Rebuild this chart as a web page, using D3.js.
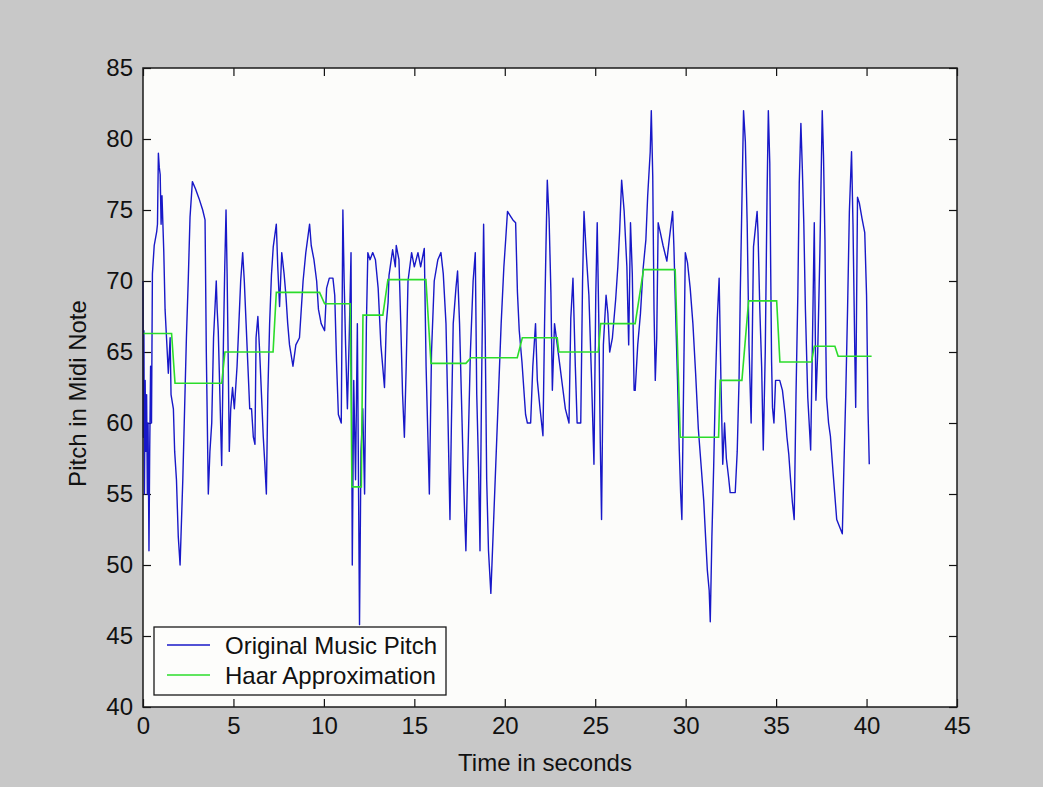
<!DOCTYPE html>
<html>
<head>
<meta charset="utf-8">
<script src="https://cdn.jsdelivr.net/npm/d3@7"></script>
<style>
  html, body { margin: 0; padding: 0; background: #c8c8c8; }
  #chart { width: 1043px; height: 787px; }
</style>
</head>
<body>
<div id="chart"></div>
<script>
// note onset times (s) and pitch (midi)
const timeSec = [
  0.00,0.02,0.05,0.08,0.12,0.15,0.20,0.24,0.28,0.33,0.37,0.42,0.47,0.52,0.62,0.76,0.80,0.85,0.90,0.95,
  1.00,1.05,1.10,1.15,1.22,1.30,1.40,1.50,1.55,1.68,1.75,1.85,1.95,2.05,2.10,2.20,2.30,2.40,2.50,2.60,
  2.73,2.90,3.10,3.30,3.43,3.50,3.55,3.61,3.70,3.80,3.90,4.05,4.10,4.16,4.25,4.35,4.45,4.52,4.59,4.65,
  4.72,4.77,4.85,4.95,5.05,5.20,5.30,5.40,5.51,5.60,5.70,5.80,5.90,6.00,6.10,6.19,6.25,6.35,6.45,6.55,
  6.65,6.74,6.82,6.90,7.00,7.10,7.20,7.37,7.45,7.55,7.67,7.80,7.90,8.00,8.10,8.29,8.45,8.65,8.85,9.00,
  9.21,9.30,9.45,9.60,9.70,9.85,10.04,10.15,10.30,10.50,10.60,10.70,10.80,10.96,11.05,11.12,11.20,11.30,11.40,11.50,
  11.57,11.65,11.75,11.85,11.97,12.05,12.15,12.25,12.35,12.43,12.55,12.70,12.85,13.00,13.15,13.35,13.45,13.55,13.60,13.80,
  13.95,14.00,14.15,14.25,14.35,14.45,14.55,14.65,14.85,15.00,15.20,15.35,15.55,15.65,15.75,15.83,15.95,16.10,16.30,16.47,
  16.60,16.75,16.85,16.97,17.05,17.15,17.30,17.39,17.50,17.60,17.70,17.78,17.85,17.95,18.10,18.25,18.37,18.45,18.55,18.63,
  18.72,18.83,18.92,19.00,19.10,19.23,19.35,19.50,19.65,19.80,19.95,20.05,20.15,20.35,20.45,20.60,20.70,20.80,20.95,21.15,
  21.25,21.43,21.55,21.70,21.80,21.95,22.11,22.20,22.28,22.35,22.45,22.55,22.63,22.75,22.90,23.05,23.20,23.35,23.55,23.65,
  23.77,23.90,24.00,24.20,24.30,24.38,24.50,24.65,24.80,24.93,25.03,25.11,25.20,25.28,25.35,25.45,25.60,25.70,25.80,25.95,
  26.13,26.25,26.35,26.46,26.60,26.75,26.85,26.95,27.05,27.15,27.21,27.35,27.50,27.65,27.80,27.90,28.04,28.10,28.18,28.25,
  28.32,28.40,28.48,28.60,28.75,28.96,29.10,29.28,29.35,29.45,29.55,29.65,29.72,29.79,29.98,30.10,30.25,30.40,30.55,30.70,
  30.86,31.00,31.10,31.20,31.30,31.36,31.45,31.55,31.65,31.75,31.85,31.95,32.05,32.15,32.25,32.37,32.46,32.74,32.85,32.95,
  33.02,33.20,33.30,33.40,33.50,33.62,33.75,33.95,34.00,34.10,34.20,34.29,34.40,34.50,34.57,34.65,34.70,34.75,34.80,34.88,
  34.97,35.20,35.35,35.50,35.60,35.70,35.80,35.90,36.00,36.10,36.20,36.28,36.37,36.45,36.53,36.62,36.75,36.91,37.00,37.11,
  37.20,37.30,37.42,37.55,37.62,37.70,37.75,37.79,37.90,38.00,38.15,38.35,38.66,38.75,38.85,38.95,39.05,39.17,39.25,39.35,
  39.40,39.50,39.60,39.75,39.90,40.00,40.08,40.15
];
const pitchMidi = [
  70,59,66.5,55,63,58,62,55,60,51,58,64,60,70.5,72.5,73.5,74,79,78,77.5,
  74,76,74,72,68,66,63.5,66,62,61,58,56,52,50,52,56,61,66,70,74.5,
  77,76.5,75.8,75,74.3,65,60.5,55,58,60,66,70,68,66.5,62,57,66,71,75,70.5,
  63.5,58,61,62.5,61,64,67,70,72,70,67,64,61,61,59,58.5,66,67.5,65,62,
  59,57,55,62,67,70.4,72.4,74,71,68.2,72,70.5,69,67,65.5,64,65.5,66,70,72,
  74,72.5,71.5,70,68,67,66.5,69.5,70.2,70.2,69,64.3,60.6,60,75,70,65.5,61,66,72,
  50,63,56,67,45.8,58,61,55,67,72,71.5,72,71.5,69.5,65.5,62.5,67,68.5,70.4,72.2,
  71,72.5,71.5,67,62,59,64,70,72,71,72,71,72.3,64,59,55,65,70,71.5,72,
  70.5,67,61,53.2,60,67,69.5,70.7,67,62,57,53.7,51,57,65,70,72,62,56.9,51,
  63,74,66,56,51,48,52,57,62,67,71,72.9,74.9,74.5,74.3,74.1,69.2,66.5,64.3,60.6,
  60,60,64,67,63,61,59.1,67,72.6,77.1,74.4,69.2,62.3,67,65.5,64,62.5,61,60,67.4,
  70.2,64,60,60,70,74.9,72,69,63,57.1,69,74.1,67,58.6,53.2,65.5,69,67.7,65,66,
  68.7,71,73.5,77.1,74.9,71,65.5,74.1,70.5,62.3,62.3,65.5,67.7,70.9,72.9,76,79.1,82,77.4,68,
  63,66,74.1,73.4,72.5,71.4,73,74.9,72.4,67.5,63,58,55.1,53.2,72,71.3,69.5,67,63.5,59.6,
  56.9,54.5,52,49.6,48.2,46,52,57,63,67.4,70.2,63,57.1,60,57.5,56.2,55.1,55.1,58,63,
  69.2,82,79.8,74.1,65.5,60,72.4,74.9,73.4,68,64,58.1,65,76.1,82,78.3,70.9,64.3,61.1,60,
  63,63,62.3,60.6,59,57.8,56,54.4,53.2,62,69,76.9,81.1,77.9,74.1,68,61.8,58.1,65,74.1,
  61.6,65,72,82,78.8,72.9,65.5,61.8,60,59.1,56.5,53.2,52.2,57,62,68,74.9,79.1,74,65,
  61.1,75.9,75.5,74.4,73.4,69,61,57.1
];

// Haar approximation: piecewise levels
const haarStart = [0, 1.77, 4.53, 7.37, 10.04, 11.55, 12.16, 13.54, 15.92, 18.13, 20.97, 22.99, 25.30, 27.67, 29.70, 31.91, 33.48, 35.21, 37.11, 38.43];
const haarEnd   = [1.58, 4.35, 7.19, 9.76, 11.46, 12.07, 13.26, 15.64, 17.85, 20.69, 22.90, 25.17, 27.21, 29.42, 31.82, 33.11, 35.03, 36.96, 38.25, 40.28];
const haarLevel = [66.3, 62.8, 65.0, 69.2, 68.4, 55.5, 67.6, 70.1, 64.2, 64.6, 66.0, 65.0, 67.0, 70.8, 59.0, 63.0, 68.6, 64.3, 65.4, 64.7];

const xTicks = [0, 5, 10, 15, 20, 25, 30, 35, 40, 45];
const yTicks = [40, 45, 50, 55, 60, 65, 70, 75, 80, 85];
const legendNames = ['Original Music Pitch', 'Haar Approximation'];
const legendColors = ['#1818c8', '#2bdc2b'];

const font = 'Liberation Sans, Arial, Helvetica, sans-serif';

let width = 1043, height = 787;

let svg = d3.select('#chart').append('svg')
    .attr('width', width)
    .attr('height', height)

svg.append('rect')
    .attr('width', width)
    .attr('height', height)
    .attr('fill', '#c8c8c8')

let x = d3.scaleLinear().domain([0, 45]).range([143, 957]);
let y = d3.scaleLinear().domain([40, 85]).range([707, 68]);

svg.append('rect')
    .attr('x', x(0))
    .attr('y', y(85))
    .attr('width', x(45) - x(0))
    .attr('height', y(40) - y(85))
    .attr('fill', '#fcfcfa')

// axes, ticks pointing inward like matlab
function styleAxis(g){
    g.attr('font-family', font).attr('font-size', 24)
    g.select('.domain').remove()
    g.selectAll('.tick line').attr('stroke', '#111').attr('stroke-width', 1.2)
    g.selectAll('.tick text').attr('fill', '#111')
}

svg.append('g')
    .attr('transform', 'translate(0,' + y(40) + ')')
    .call(d3.axisBottom(x).tickValues(xTicks).tickSize(-8).tickPadding(10))
    .call(styleAxis)

svg.append('g')
    .attr('transform', 'translate(0,' + y(85) + ')')
    .call(d3.axisTop(x).tickValues(xTicks).tickSize(-8).tickFormat(''))
    .call(styleAxis)

svg.append('g')
    .attr('transform', 'translate(' + x(0) + ',0)')
    .call(d3.axisLeft(y).tickValues(yTicks).tickSize(-8).tickPadding(10))
    .call(styleAxis)

svg.append('g')
    .attr('transform', 'translate(' + x(45) + ',0)')
    .call(d3.axisRight(y).tickValues(yTicks).tickSize(-8).tickFormat(''))
    .call(styleAxis)

// the lines
let pitchData = timeSec.map(function(t, i){ return {t: t, v: pitchMidi[i]} })

let haarData = []
haarLevel.forEach(function(v, i){
    haarData.push({t: haarStart[i], v: v})
    haarData.push({t: haarEnd[i], v: v})
})

let line = d3.line()
    .x(function(d){ return x(d.t) })
    .y(function(d){ return y(d.v) })

svg.append('path')
    .datum(pitchData)
    .attr('d', line)
    .attr('fill', 'none')
    .attr('stroke', legendColors[0])
    .attr('stroke-width', 1.4)
    .attr('stroke-linejoin', 'round')

svg.append('path')
    .datum(haarData)
    .attr('d', line)
    .attr('fill', 'none')
    .attr('stroke', legendColors[1])
    .attr('stroke-width', 1.6)

// frame on top
svg.append('rect')
    .attr('x', x(0))
    .attr('y', y(85))
    .attr('width', x(45) - x(0))
    .attr('height', y(40) - y(85))
    .attr('fill', 'none')
    .attr('stroke', '#1a1a1a')
    .attr('stroke-width', 1.5)

// labels
svg.append('text')
    .attr('x', (x(0) + x(45)) / 2 - 5)
    .attr('y', 771)
    .attr('text-anchor', 'middle')
    .attr('font-family', font)
    .attr('font-size', 24)
    .attr('fill', '#111')
    .text('Time in seconds')

svg.append('text')
    .attr('transform', 'translate(86,' + ((y(40) + y(85)) / 2 + 6) + ') rotate(-90)')
    .attr('text-anchor', 'middle')
    .attr('font-family', font)
    .attr('font-size', 24)
    .attr('fill', '#111')
    .text('Pitch in Midi Note')

// legend
let legend = svg.append('g')
    .attr('transform', 'translate(154,627)')

legend.append('rect')
    .attr('width', 292)
    .attr('height', 68)
    .attr('fill', '#fdfdfb')
    .attr('stroke', '#1a1a1a')
    .attr('stroke-width', 1.3)

legend.selectAll('leg_line')
    .data(legendNames)
    .enter()
    .append('line')
    .attr('x1', 13)
    .attr('x2', 56)
    .attr('y1', function(d, i){ return 18 + i * 30 })
    .attr('y2', function(d, i){ return 18 + i * 30 })
    .attr('stroke', function(d, i){ return legendColors[i] })
    .attr('stroke-width', 1.6)

legend.selectAll('leg_text')
    .data(legendNames)
    .enter()
    .append('text')
    .attr('x', 71)
    .attr('y', function(d, i){ return 27 + i * 30 })
    .attr('font-family', font)
    .attr('font-size', 24)
    .attr('fill', '#111')
    .text(function(d){ return d })
</script>
</body>
</html>
